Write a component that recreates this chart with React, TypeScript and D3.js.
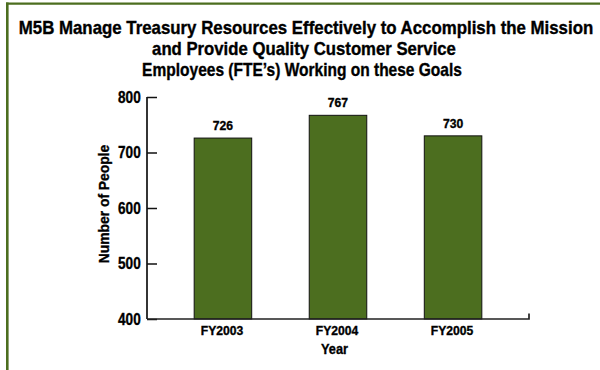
import * as React from "react";
import * as d3 from "d3";

const years = ["FY2003", "FY2004", "FY2005"];
const people = [726, 767, 730];
const yTicks = [400, 500, 600, 700, 800];
const titleLines = [
  "M5B Manage Treasury Resources Effectively to Accomplish the Mission",
  "and Provide Quality Customer Service",
  "Employees (FTE\u2019s) Working on these Goals",
];
const titleWidths = [575, 304, 320];
const titleCenters = [306, 304, 302];

const green = "#4c6e1f";
const font = "'Liberation Sans', Arial, Helvetica, sans-serif";

// condensed bold text: place at (x,y) and squeeze horizontally
function squeeze(x: number, y: number, sx: number, rot = 0) {
  return `translate(${x},${y})${rot ? ` rotate(${rot})` : ""} scale(${sx},1)`;
}

export default function App() {
  const ref = React.useRef<SVGSVGElement>(null);

  React.useEffect(() => {
    const svg = d3.select(ref.current);
    svg.selectAll("*").remove();

    // frame (left + top)
    svg.append("line").attr("x1", 7.3).attr("x2", 7.3).attr("y1", 2.5).attr("y2", 370)
      .attr("stroke", green).attr("stroke-width", 2.6);
    svg.append("line").attr("x1", 6).attr("x2", 600).attr("y1", 3.7).attr("y2", 3.7)
      .attr("stroke", green).attr("stroke-width", 2.3);

    const labels = svg.append("g")
      .attr("font-family", font).attr("font-weight", "bold")
      .attr("fill", "#000").attr("stroke", "#000").attr("stroke-width", 0.35);

    // title - squeeze each line to the width it has in the original
    labels.append("g").selectAll("text").data(titleLines).join("text")
      .attr("text-anchor", "middle")
      .attr("font-size", 17.5)
      .text(d => d)
      .each(function (d, i) {
        const len = (this as SVGTextElement).getComputedTextLength() || titleWidths[i];
        d3.select(this).attr("transform",
          squeeze(titleCenters[i], 33.5 + i * 21, titleWidths[i] / len));
      });

    const left = 147, right = 529, top = 97, bottom = 319;

    const x = d3.scaleBand().domain(years).range([left, right])
      .paddingInner(0.5).paddingOuter(0.41);
    const y = d3.scaleLinear().domain([400, 800]).range([bottom, top]);

    // bars
    svg.append("g").selectAll("rect").data(people).join("rect")
      .attr("x", (d, i) => x(years[i]))
      .attr("y", d => y(d))
      .attr("width", x.bandwidth())
      .attr("height", d => bottom - y(d))
      .attr("fill", green).attr("stroke", "#111").attr("stroke-width", 1);

    // value labels
    labels.append("g").selectAll("text").data(people).join("text")
      .attr("transform", (d, i) => squeeze(x(years[i]) + x.bandwidth() / 2, y(d) - 8, 0.95))
      .attr("text-anchor", "middle")
      .attr("font-size", 12.8)
      .text(d => d);

    // y axis
    const yAxis = svg.append("g").attr("transform", `translate(${left},0)`)
      .call(d3.axisRight(y).tickValues(yTicks).tickSize(10).tickFormat(() => ""));
    yAxis.select(".domain").attr("d", `M0,${top}V${bottom}`).attr("stroke", "#111").attr("stroke-width", 1.7);
    yAxis.selectAll(".tick line").attr("stroke", "#111").attr("stroke-width", 1.5);
    labels.append("g").selectAll("text").data(yTicks).join("text")
      .attr("transform", d => squeeze(140.7, y(d) + 5.8, 0.84))
      .attr("text-anchor", "end")
      .attr("font-size", 16.2)
      .text(d => d);

    // x axis
    svg.append("path")
      .attr("d", `M${left},${bottom}H${right}V${bottom - 5.5}`)
      .attr("fill", "none").attr("stroke", "#222").attr("stroke-width", 1.7);
    labels.append("g").selectAll("text").data(years).join("text")
      .attr("transform", d => squeeze(x(d) + x.bandwidth() / 2 - 1, 334.5, 0.97))
      .attr("text-anchor", "middle")
      .attr("font-size", 12.5)
      .text(d => d);

    // axis titles
    labels.append("text").attr("transform", squeeze(334.5, 354, 0.83))
      .attr("text-anchor", "middle")
      .attr("font-size", 15.4)
      .text("Year");
    labels.append("text").attr("transform", squeeze(108.8, 204, 0.9, -90))
      .attr("text-anchor", "middle")
      .attr("font-size", 15.4)
      .text("Number of People");
  }, []);

  return (
    <svg ref={ref} width={600} height={370}
      style={{ position: "absolute", left: 0, top: 0, background: "#fff" }} />
  );
}
